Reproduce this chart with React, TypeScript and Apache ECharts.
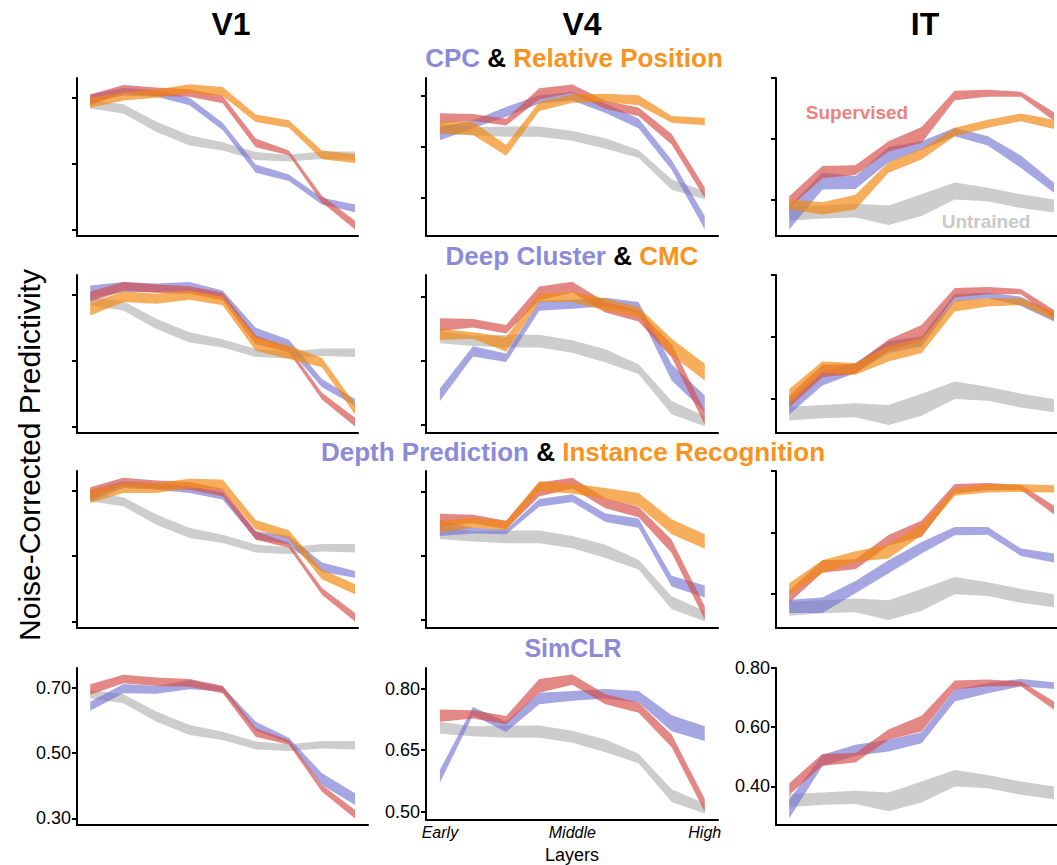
import React, { useEffect, useRef } from 'react';
import * as echarts from 'echarts';

const FONT = '"Liberation Sans", Arial, Helvetica, sans-serif';

// ---------- labels ----------
const AREAS = ['V1', 'V4', 'IT'];
const ROW_MODELS = [
  ['CPC', 'Relative Position'],
  ['Deep Cluster', 'CMC'],
  ['Depth Prediction', 'Instance Recognition'],
  ['SimCLR', ''],
];
const LAYER_TICKS = [0, 4, 8];
const LAYER_LABELS = ['Early', 'Middle', 'High'];
const Y_TICKS: Record<string, number[]> = {
  V1: [0.3, 0.5, 0.7],
  V4: [0.5, 0.65, 0.8],
  IT: [0.4, 0.6, 0.8],
};

// ---------- V1 ----------
const V1_SUP_LO = [0.678, 0.713, 0.705, 0.703, 0.683, 0.550, 0.525, 0.382, 0.300];
const V1_SUP_HI = [0.710, 0.739, 0.731, 0.726, 0.706, 0.576, 0.540, 0.402, 0.326];
const V1_UNT_LO = [0.667, 0.652, 0.596, 0.555, 0.540, 0.511, 0.506, 0.514, 0.511];
const V1_UNT_HI = [0.693, 0.680, 0.627, 0.586, 0.565, 0.535, 0.527, 0.537, 0.537];
const V1_CPC_LO = [0.685, 0.707, 0.703, 0.677, 0.602, 0.472, 0.447, 0.376, 0.352];
const V1_CPC_HI = [0.710, 0.730, 0.723, 0.700, 0.624, 0.497, 0.467, 0.396, 0.376];
const V1_RELPOS_LO = [0.670, 0.692, 0.700, 0.715, 0.705, 0.626, 0.609, 0.513, 0.502];
const V1_RELPOS_HI = [0.700, 0.717, 0.725, 0.741, 0.733, 0.649, 0.632, 0.540, 0.528];
const V1_DC_LO = [0.688, 0.708, 0.708, 0.711, 0.693, 0.571, 0.536, 0.419, 0.363];
const V1_DC_HI = [0.728, 0.739, 0.734, 0.739, 0.713, 0.600, 0.563, 0.444, 0.383];
const V1_CMC_LO = [0.637, 0.678, 0.673, 0.685, 0.668, 0.530, 0.505, 0.480, 0.336];
const V1_CMC_HI = [0.675, 0.711, 0.703, 0.713, 0.693, 0.571, 0.546, 0.508, 0.368];
const V1_DEPTH_LO = [0.668, 0.708, 0.703, 0.693, 0.673, 0.551, 0.536, 0.451, 0.434];
const V1_DEPTH_HI = [0.703, 0.728, 0.723, 0.713, 0.695, 0.576, 0.561, 0.480, 0.454];
const V1_INST_LO = [0.662, 0.693, 0.693, 0.708, 0.703, 0.581, 0.553, 0.429, 0.383];
const V1_INST_HI = [0.703, 0.723, 0.723, 0.736, 0.734, 0.610, 0.579, 0.459, 0.414];
const V1_SIMCLR_LO = [0.629, 0.683, 0.681, 0.695, 0.688, 0.569, 0.530, 0.402, 0.341];
const V1_SIMCLR_HI = [0.657, 0.711, 0.705, 0.723, 0.703, 0.596, 0.547, 0.438, 0.377];

// ---------- V4 ----------
const V4_SUP_LO = [0.719, 0.727, 0.713, 0.790, 0.809, 0.762, 0.741, 0.657, 0.500];
const V4_SUP_HI = [0.749, 0.747, 0.733, 0.823, 0.834, 0.786, 0.766, 0.688, 0.531];
const V4_UNT_LO = [0.690, 0.684, 0.680, 0.680, 0.668, 0.645, 0.618, 0.524, 0.496];
const V4_UNT_HI = [0.719, 0.708, 0.710, 0.710, 0.697, 0.676, 0.641, 0.555, 0.520];
const V4_CPC_LO = [0.670, 0.705, 0.739, 0.778, 0.787, 0.750, 0.705, 0.583, 0.408];
const V4_CPC_HI = [0.709, 0.729, 0.768, 0.802, 0.812, 0.778, 0.734, 0.612, 0.447];
const V4_RELPOS_LO = [0.690, 0.685, 0.624, 0.756, 0.780, 0.782, 0.773, 0.721, 0.714];
const V4_RELPOS_HI = [0.724, 0.724, 0.656, 0.782, 0.805, 0.807, 0.802, 0.741, 0.736];
const V4_DC_LO = [0.555, 0.659, 0.646, 0.766, 0.771, 0.777, 0.763, 0.603, 0.529];
const V4_DC_HI = [0.584, 0.683, 0.666, 0.789, 0.792, 0.797, 0.787, 0.641, 0.568];
const V4_CMC_LO = [0.698, 0.701, 0.670, 0.787, 0.787, 0.767, 0.752, 0.662, 0.603];
const V4_CMC_HI = [0.724, 0.716, 0.705, 0.806, 0.810, 0.795, 0.775, 0.701, 0.642];
const V4_DEPTH_LO = [0.697, 0.703, 0.701, 0.766, 0.777, 0.730, 0.716, 0.578, 0.552];
const V4_DEPTH_HI = [0.734, 0.716, 0.712, 0.784, 0.795, 0.750, 0.738, 0.603, 0.580];
const V4_INST_LO = [0.705, 0.716, 0.711, 0.802, 0.797, 0.784, 0.767, 0.701, 0.667];
const V4_INST_HI = [0.732, 0.740, 0.732, 0.826, 0.820, 0.810, 0.798, 0.736, 0.701];
const V4_SIMCLR_LO = [0.571, 0.735, 0.694, 0.762, 0.770, 0.776, 0.766, 0.696, 0.672];
const V4_SIMCLR_HI = [0.602, 0.755, 0.719, 0.790, 0.794, 0.799, 0.794, 0.735, 0.708];

// ---------- IT ----------
const IT_SUP_LO = [0.372, 0.470, 0.481, 0.558, 0.586, 0.727, 0.738, 0.738, 0.659];
const IT_SUP_HI = [0.411, 0.510, 0.513, 0.592, 0.639, 0.758, 0.761, 0.755, 0.687];
const IT_UNT_LO = [0.330, 0.338, 0.341, 0.316, 0.346, 0.400, 0.394, 0.372, 0.357];
const IT_UNT_HI = [0.375, 0.380, 0.386, 0.380, 0.417, 0.456, 0.439, 0.417, 0.400];
const IT_CPC_LO = [0.301, 0.433, 0.435, 0.523, 0.564, 0.608, 0.578, 0.504, 0.422];
const IT_CPC_HI = [0.378, 0.488, 0.477, 0.573, 0.592, 0.636, 0.608, 0.545, 0.455];
const IT_RELPOS_LO = [0.367, 0.351, 0.367, 0.488, 0.532, 0.608, 0.636, 0.658, 0.632];
const IT_RELPOS_HI = [0.400, 0.391, 0.416, 0.523, 0.567, 0.636, 0.663, 0.683, 0.663];
const IT_DC_LO = [0.350, 0.443, 0.484, 0.548, 0.569, 0.714, 0.725, 0.700, 0.650];
const IT_DC_HI = [0.398, 0.489, 0.516, 0.586, 0.602, 0.739, 0.743, 0.730, 0.679];
const IT_CMC_LO = [0.382, 0.484, 0.478, 0.521, 0.548, 0.682, 0.698, 0.703, 0.655];
const IT_CMC_HI = [0.432, 0.521, 0.516, 0.572, 0.596, 0.717, 0.725, 0.725, 0.682];
const IT_DEPTH_LO = [0.339, 0.339, 0.403, 0.468, 0.532, 0.591, 0.593, 0.524, 0.503];
const IT_DEPTH_HI = [0.382, 0.389, 0.443, 0.510, 0.569, 0.618, 0.618, 0.548, 0.532];
const IT_INST_LO = [0.398, 0.468, 0.505, 0.516, 0.591, 0.720, 0.730, 0.732, 0.730];
const IT_INST_HI = [0.435, 0.510, 0.539, 0.561, 0.628, 0.743, 0.757, 0.757, 0.754];
const IT_SIMCLR_LO = [0.293, 0.468, 0.504, 0.518, 0.546, 0.687, 0.715, 0.738, 0.729];
const IT_SIMCLR_HI = [0.355, 0.507, 0.541, 0.558, 0.583, 0.727, 0.749, 0.763, 0.752];

type Band = [number[], number[]];
const SUP: Band[] = [[V1_SUP_LO, V1_SUP_HI], [V4_SUP_LO, V4_SUP_HI], [IT_SUP_LO, IT_SUP_HI]];
const UNT: Band[] = [[V1_UNT_LO, V1_UNT_HI], [V4_UNT_LO, V4_UNT_HI], [IT_UNT_LO, IT_UNT_HI]];
// [row][area] -> [blue model band, orange model band | null]
const MODEL_BANDS: [Band, Band | null][][] = [
  [
    [[V1_CPC_LO, V1_CPC_HI], [V1_RELPOS_LO, V1_RELPOS_HI]],
    [[V4_CPC_LO, V4_CPC_HI], [V4_RELPOS_LO, V4_RELPOS_HI]],
    [[IT_CPC_LO, IT_CPC_HI], [IT_RELPOS_LO, IT_RELPOS_HI]],
  ],
  [
    [[V1_DC_LO, V1_DC_HI], [V1_CMC_LO, V1_CMC_HI]],
    [[V4_DC_LO, V4_DC_HI], [V4_CMC_LO, V4_CMC_HI]],
    [[IT_DC_LO, IT_DC_HI], [IT_CMC_LO, IT_CMC_HI]],
  ],
  [
    [[V1_DEPTH_LO, V1_DEPTH_HI], [V1_INST_LO, V1_INST_HI]],
    [[V4_DEPTH_LO, V4_DEPTH_HI], [V4_INST_LO, V4_INST_HI]],
    [[IT_DEPTH_LO, IT_DEPTH_HI], [IT_INST_LO, IT_INST_HI]],
  ],
  [
    [[V1_SIMCLR_LO, V1_SIMCLR_HI], null],
    [[V4_SIMCLR_LO, V4_SIMCLR_HI], null],
    [[IT_SIMCLR_LO, IT_SIMCLR_HI], null],
  ],
];

// ---------- layout ----------
const COL_LEFT = [77, 426, 776];
const COL_WIDTH = [[281, 281, 281, 291], [292, 292, 292, 292], [281, 281, 281, 281]];
const X_MIN = [-0.4, -0.42, -0.4];
const X_MAX = [[8.09, 8.09, 8.09, 8.39], [8.4, 8.4, 8.4, 8.4], [8.09, 8.09, 8.09, 8.09]];
const ROW_TOP = [78, 275, 471, 668];
const ROW_HEIGHT = [158, 158, 157, 157];
const Y_RANGE: [number, number][][] = [
  [[0.28, 0.76], [0.388, 0.853], [0.28, 0.8]],
  [[0.28, 0.76], [0.48, 0.85], [0.29, 0.8]],
  [[0.28, 0.76], [0.48, 0.85], [0.29, 0.8]],
  [[0.28, 0.76], [0.48, 0.85], [0.27, 0.8]],
];

const GRAY = 'rgba(172,172,172,0.6)';
const BLUE = 'rgba(112,112,208,0.62)';
const RED = 'rgba(214,80,74,0.68)';
const ORANGE = 'rgba(242,135,15,0.68)';
const BLUE_TXT = '#8b8bd8';
const ORANGE_TXT = '#f7931e';

function bandSeries(gi: number, band: Band, color: string, z: number) {
  const [lo, hi] = band;
  return {
    type: 'custom', xAxisIndex: gi, yAxisIndex: gi, z, silent: true,
    data: lo.map((v, i) => [i, v, hi[i]]),
    encode: { x: 0, y: [1, 2] },
    renderItem: (params: any, api: any) => {
      if (params.dataIndex !== 0) return null;
      const top = hi.map((v, i) => api.coord([i, v]));
      const bottom = lo.map((v, i) => api.coord([i, v])).reverse();
      return { type: 'polygon', shape: { points: top.concat(bottom) }, style: { fill: color } };
    },
  };
}

function buildOption() {
  const grid: any[] = [];
  const xAxis: any[] = [];
  const yAxis: any[] = [];
  const series: any[] = [];
  for (let r = 0; r < 4; r++) {
    for (let c = 0; c < 3; c++) {
      const gi = r * 3 + c;
      grid.push({ left: COL_LEFT[c], top: ROW_TOP[r], width: COL_WIDTH[c][r], height: ROW_HEIGHT[r] });
      const showX = r === 3 && c === 1;
      xAxis.push({
        gridIndex: gi, type: 'value', min: X_MIN[c], max: X_MAX[c][r],
        axisLine: { show: true, onZero: false, lineStyle: { color: '#000', width: 2 } },
        axisTick: { show: false },
        splitLine: { show: false },
        axisLabel: {
          show: showX, customValues: LAYER_TICKS, margin: 4,
          formatter: (v: number) => LAYER_LABELS[LAYER_TICKS.indexOf(Math.round(v))] || '',
          fontFamily: FONT, fontSize: 16, fontStyle: 'italic', color: '#000',
        },
        name: showX ? 'Layers' : '', nameLocation: 'middle', nameGap: 26,
        nameTextStyle: { fontFamily: FONT, fontSize: 18, color: '#000' },
      });
      const ticks = Y_TICKS[AREAS[c]];
      yAxis.push({
        gridIndex: gi, type: 'value', min: Y_RANGE[r][c][0], max: Y_RANGE[r][c][1],
        axisLine: { show: true, onZero: false, lineStyle: { color: '#000', width: 2 } },
        axisTick: { show: true, inside: false, length: 5, customValues: ticks, lineStyle: { color: '#000', width: 2 } },
        splitLine: { show: false },
        axisLabel: {
          show: r === 3, customValues: ticks, margin: 6,
          formatter: (v: number) => v.toFixed(2),
          fontFamily: FONT, fontSize: 18, color: '#000',
        },
      });
      const [blueBand, orangeBand] = MODEL_BANDS[r][c];
      series.push(bandSeries(gi, UNT[c], GRAY, 1));
      series.push(bandSeries(gi, blueBand, BLUE, 2));
      series.push(bandSeries(gi, SUP[c], RED, 3));
      if (orangeBand) series.push(bandSeries(gi, orangeBand, ORANGE, 4));
    }
  }

  const subtitleX = [574, 572, 573, 573];
  const subtitleY = [58, 256, 452, 648];
  const subtitleSize = [26, 26, 26, 25];
  const graphic: any[] = [];
  const colX = [231, 582, 925];
  AREAS.forEach((a, i) => {
    graphic.push({
      type: 'text', x: colX[i], y: 24, z: 100,
      style: { text: a, fill: '#000', fontSize: 32, fontWeight: 'bold', fontFamily: FONT, align: 'center', verticalAlign: 'middle' },
    });
  });
  ROW_MODELS.forEach((m, r) => {
    const fs = subtitleSize[r];
    const rs = (fill: string) => ({ fill, fontSize: fs, fontWeight: 'bold', fontFamily: FONT });
    const text = m[1] ? `{b|${m[0]}} {k|&} {o|${m[1]}}` : `{b|${m[0]}}`;
    graphic.push({
      type: 'text', x: subtitleX[r], y: subtitleY[r], z: 100,
      style: {
        text, align: 'center', verticalAlign: 'middle',
        fontSize: fs, fontWeight: 'bold', fontFamily: FONT, fill: '#000',
        rich: { b: rs(BLUE_TXT), k: rs('#000'), o: rs(ORANGE_TXT) },
      },
    });
  });
  graphic.push({
    type: 'text', x: 29, y: 455, rotation: Math.PI / 2, z: 100,
    style: { text: 'Noise-Corrected Predictivity', fill: '#000', fontSize: 30, fontFamily: FONT, align: 'center', verticalAlign: 'middle' },
  });
  graphic.push({
    type: 'text', x: 857, y: 112, z: 100,
    style: { text: 'Supervised', fill: '#e8837f', fontSize: 19, fontWeight: 'bold', fontFamily: FONT, align: 'center', verticalAlign: 'middle' },
  });
  graphic.push({
    type: 'text', x: 986, y: 221, z: 100,
    style: { text: 'Untrained', fill: '#c9c9c9', fontSize: 19, fontWeight: 'bold', fontFamily: FONT, align: 'center', verticalAlign: 'middle' },
  });

  return { animation: false, backgroundColor: '#fff', grid, xAxis, yAxis, series, graphic };
}

export default function App() {
  const ref = useRef<HTMLDivElement>(null);
  useEffect(() => {
    if (!ref.current) return;
    const chart = echarts.init(ref.current, undefined, { renderer: 'svg' });
    chart.setOption(buildOption() as any);
    return () => chart.dispose();
  }, []);
  return <div ref={ref} style={{ position: 'absolute', left: 0, top: 0, width: 1057, height: 865 }} />;
}
